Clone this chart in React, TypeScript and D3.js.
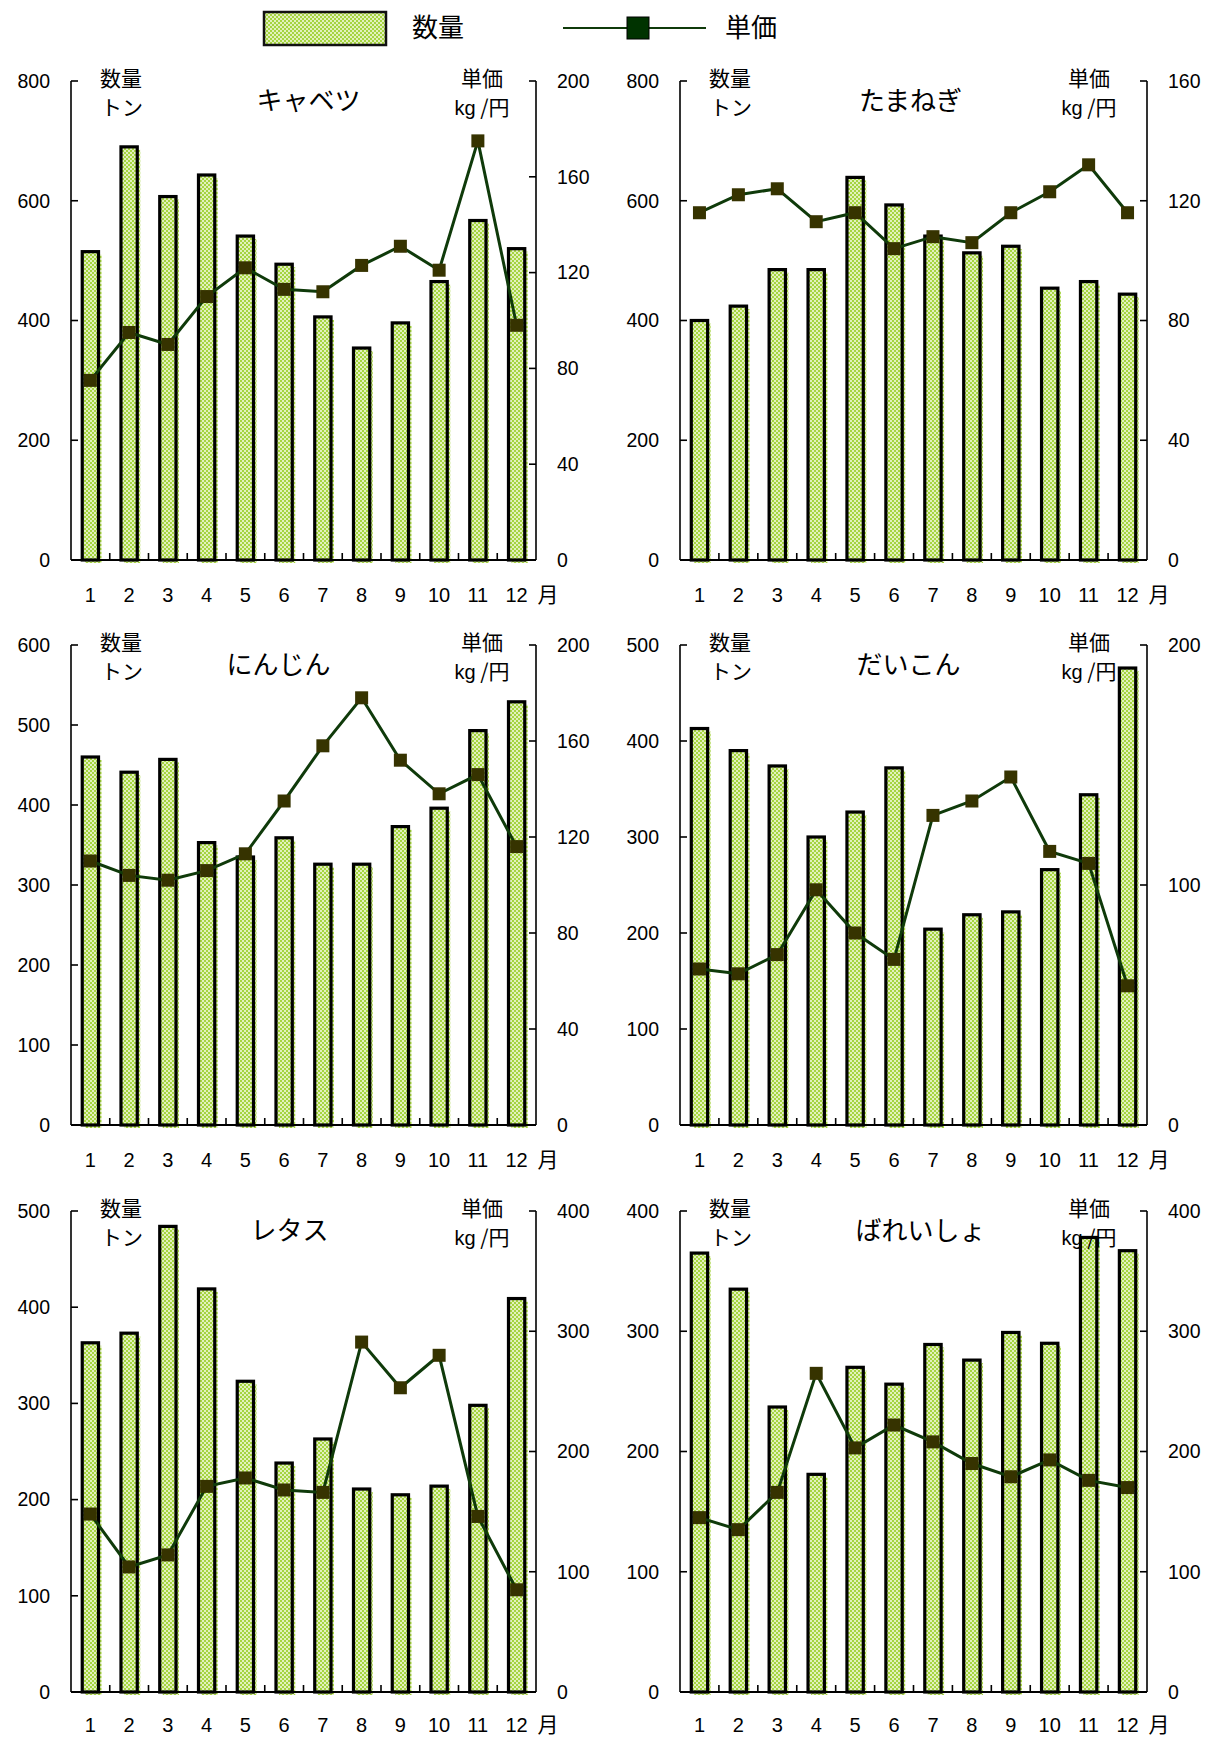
import React from 'react';
import * as d3 from 'd3';

const months = ['1', '2', '3', '4', '5', '6', '7', '8', '9', '10', '11', '12'];

// 数量 (トン) and 単価 (円/kg) per vegetable
const cabbageQty = [515, 690, 607, 643, 541, 494, 406, 354, 396, 465, 567, 520];
const cabbagePrice = [75, 95, 90, 110, 122, 113, 112, 123, 131, 121, 175, 98];
const onionQty = [400, 424, 485, 485, 639, 593, 541, 513, 524, 454, 465, 444];
const onionPrice = [116, 122, 124, 113, 116, 104, 108, 106, 116, 123, 132, 116];
const carrotQty = [460, 441, 457, 353, 335, 359, 326, 326, 373, 396, 493, 529];
const carrotPrice = [110, 104, 102, 106, 113, 135, 158, 178, 152, 138, 146, 116];
const radishQty = [413, 390, 374, 300, 326, 372, 204, 219, 222, 266, 344, 476];
const radishPrice = [65, 63, 71, 98, 80, 69, 129, 135, 145, 114, 109, 58];
const lettuceQty = [363, 373, 484, 419, 323, 238, 263, 211, 205, 214, 298, 409];
const lettucePrice = [148, 104, 114, 171, 178, 168, 166, 291, 253, 280, 146, 85];
const potatoQty = [365, 335, 237, 181, 270, 256, 289, 276, 299, 290, 378, 367];
const potatoPrice = [145, 135, 166, 265, 203, 222, 208, 190, 179, 193, 176, 170];

const cabbageLeftTicks = [0, 200, 400, 600, 800];
const cabbageRightTicks = [0, 40, 80, 120, 160, 200];
const onionLeftTicks = [0, 200, 400, 600, 800];
const onionRightTicks = [0, 40, 80, 120, 160];
const carrotLeftTicks = [0, 100, 200, 300, 400, 500, 600];
const carrotRightTicks = [0, 40, 80, 120, 160, 200];
const radishLeftTicks = [0, 100, 200, 300, 400, 500];
const radishRightTicks = [0, 100, 200];
const lettuceLeftTicks = [0, 100, 200, 300, 400, 500];
const lettuceRightTicks = [0, 100, 200, 300, 400];
const potatoLeftTicks = [0, 100, 200, 300, 400];
const potatoRightTicks = [0, 100, 200, 300, 400];

const charts = [
  { title: 'キャベツ', qty: cabbageQty, price: cabbagePrice, lt: cabbageLeftTicks, rt: cabbageRightTicks, col: 0, row: 0, tdx: 5 },
  { title: 'たまねぎ', qty: onionQty, price: onionPrice, lt: onionLeftTicks, rt: onionRightTicks, col: 1, row: 0, tdx: -3 },
  { title: 'にんじん', qty: carrotQty, price: carrotPrice, lt: carrotLeftTicks, rt: carrotRightTicks, col: 0, row: 1, tdx: -25 },
  { title: 'だいこん', qty: radishQty, price: radishPrice, lt: radishLeftTicks, rt: radishRightTicks, col: 1, row: 1, tdx: -5 },
  { title: 'レタス', qty: lettuceQty, price: lettucePrice, lt: lettuceLeftTicks, rt: lettuceRightTicks, col: 0, row: 2, tdx: -14 },
  { title: 'ばれいしょ', qty: potatoQty, price: potatoPrice, lt: potatoLeftTicks, rt: potatoRightTicks, col: 1, row: 2, tdx: 7 },
];

const colX = [[71, 536], [680, 1147]];
const priceDx = [54, 58];
const rowTop = [81, 645, 1211];
const rowH = [479, 480, 481];
const labelDy = [42, 42, 40];

const JP = '"Noto Sans CJK JP", "Noto Sans", sans-serif';
const NUM = '"Liberation Sans", Arial, sans-serif';
const LINE = '#0f3a0a';
const MARK = '#363300';

const Panel = ({ c }: { c: (typeof charts)[number] }) => {
  const [x0, x1] = colX[c.col];
  const top = rowTop[c.row];
  const bottom = top + rowH[c.row];
  const x = d3.scaleBand<string>().domain(months).range([x0, x1]).paddingInner(0).paddingOuter(0);
  const yL = d3.scaleLinear().domain([0, c.lt[c.lt.length - 1]]).range([bottom, top]);
  const yR = d3.scaleLinear().domain([0, c.rt[c.rt.length - 1]]).range([bottom, top]);
  const bw = x.bandwidth() * 0.42;
  const cx = (i: number) => (x(months[i]) as number) + x.bandwidth() / 2;
  const line = d3
    .line<number>()
    .x((_, i) => cx(i))
    .y((d) => yR(d));
  const midX = (x0 + x1) / 2;
  const pdx = priceDx[c.col];
  const ly = bottom + labelDy[c.row];

  return (
    <g>
      {/* bars */}
      {c.qty.map((v, i) => {
        const bx = cx(i) - bw / 2;
        const by = yL(v);
        return (
          <g key={'b' + i}>
            <rect x={bx + 3} y={by + 3} width={bw} height={bottom - by} fill="url(#chk)" />
            <rect x={bx} y={by} width={bw} height={bottom - by} fill="url(#chk)" stroke="#000" strokeWidth={3.2} />
          </g>
        );
      })}
      {/* axes */}
      <line x1={x0} x2={x0} y1={top} y2={bottom} stroke="#000" strokeWidth={1.6} />
      <line x1={x1} x2={x1} y1={top} y2={bottom} stroke="#000" strokeWidth={1.6} />
      <line x1={x0} x2={x1} y1={bottom} y2={bottom} stroke="#000" strokeWidth={1.8} />
      {c.lt.map((t) => (
        <g key={'l' + t}>
          <line x1={x0} x2={x0 + 7} y1={yL(t)} y2={yL(t)} stroke="#000" strokeWidth={1.6} />
          <text x={x0 - 21} y={yL(t)} dy="0.35em" textAnchor="end" fontFamily={NUM} fontSize={19.5}>
            {t}
          </text>
        </g>
      ))}
      {c.rt.map((t) => (
        <g key={'r' + t}>
          <line x1={x1 - 7} x2={x1} y1={yR(t)} y2={yR(t)} stroke="#000" strokeWidth={1.6} />
          <text x={x1 + 21} y={yR(t)} dy="0.35em" textAnchor="start" fontFamily={NUM} fontSize={19.5}>
            {t}
          </text>
        </g>
      ))}
      {months.slice(1).map((m) => (
        <line key={'t' + m} x1={x(m)} x2={x(m)} y1={bottom} y2={bottom - 7} stroke="#000" strokeWidth={1.6} />
      ))}
      {months.map((m, i) => (
        <text key={'x' + m} x={cx(i)} y={ly} textAnchor="middle" fontFamily={NUM} fontSize={20}>
          {m}
        </text>
      ))}
      <text x={x1 + 12} y={ly} textAnchor="middle" fontFamily={JP} fontSize={21}>
        月
      </text>
      {/* line series */}
      <path d={line(c.price) || ''} fill="none" stroke={LINE} strokeWidth={3} />
      {c.price.map((v, i) => (
        <rect key={'m' + i} x={cx(i) - 6.5} y={yR(v) - 6.5} width={13} height={13} fill={MARK} />
      ))}
      {/* headers */}
      <text x={x0 + 50} y={top + 5} textAnchor="middle" fontFamily={JP} fontSize={21}>
        数量
      </text>
      <text x={x0 + 51} y={top + 34} textAnchor="middle" fontFamily={JP} fontSize={21}>
        トン
      </text>
      <text x={x1 - pdx} y={top + 5} textAnchor="middle" fontFamily={JP} fontSize={21}>
        単価
      </text>
      <text x={x1 - pdx} y={top + 34} textAnchor="middle" fontFamily={NUM} fontSize={20}>
        kg
        <tspan fontFamily={JP} fontSize={21}> /円</tspan>
      </text>
      <text x={midX + c.tdx} y={top + 29} textAnchor="middle" fontFamily={JP} fontSize={26}>
        {c.title}
      </text>
    </g>
  );
};

export default function App() {
  return (
    <svg
      width={1212}
      height={1737}
      style={{ position: 'absolute', left: 0, top: 0, background: '#fff' }}
    >
      <defs>
        <pattern id="chk" width={4} height={4} patternUnits="userSpaceOnUse">
          <rect width={4} height={4} fill="#e2f1bd" />
          <rect width={2} height={2} fill="#a5d440" />
          <rect x={2} y={2} width={2} height={2} fill="#a5d440" />
        </pattern>
      </defs>
      <rect width={1212} height={1737} fill="#fff" />
      {/* legend */}
      <rect x={264} y={12} width={122} height={33} fill="url(#chk)" stroke="#111" strokeWidth={2.5} />
      <text x={438} y={28} dy="0.35em" textAnchor="middle" fontFamily={JP} fontSize={26}>
        数量
      </text>
      <line x1={563} x2={706} y1={28} y2={28} stroke={LINE} strokeWidth={2} />
      <rect x={627} y={17} width={22} height={22} fill="#003300" stroke="#000" strokeWidth={1} />
      <text x={751} y={28} dy="0.35em" textAnchor="middle" fontFamily={JP} fontSize={26}>
        単価
      </text>
      {charts.map((c) => (
        <Panel key={c.title} c={c} />
      ))}
    </svg>
  );
}
